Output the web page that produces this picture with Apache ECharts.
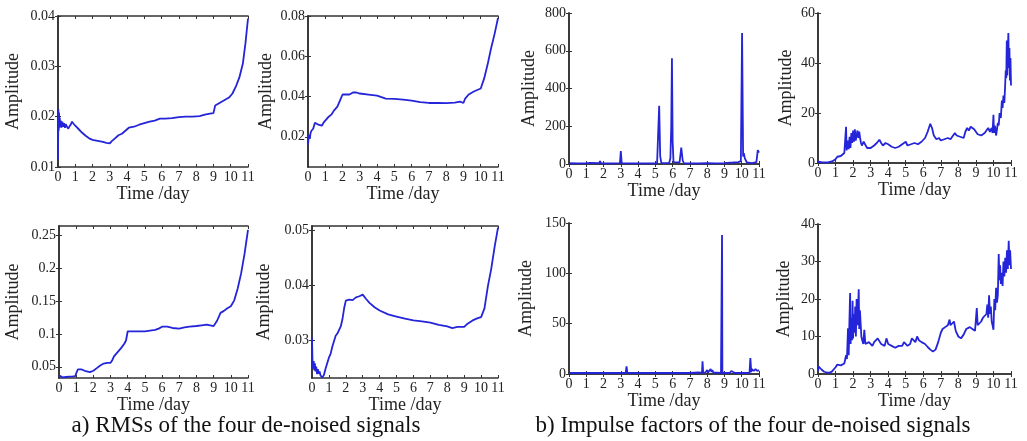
<!DOCTYPE html>
<html><head><meta charset="utf-8">
<script src="https://cdn.jsdelivr.net/npm/echarts@6/dist/echarts.min.js"></script>
<style>html,body{margin:0;padding:0;background:#fff}#c{width:1027px;height:441px}</style>
</head><body><div id="c"></div><script>
// ---- data (day, value) ----
const dayTicks = [0,1,2,3,4,5,6,7,8,9,10,11];

const rms1 = [[0,0.0115],[0.02,0.0215],[0.04,0.0172],[0.06,0.0208],[0.08,0.0178],[0.1,0.0198],[0.13,0.0180],[0.16,0.0192],[0.2,0.0178],[0.25,0.0190],[0.3,0.0180],[0.35,0.0187],[0.4,0.0178],[0.45,0.0185],[0.5,0.0181],[0.55,0.0184],[0.6,0.0176],[0.65,0.0180],[0.7,0.0182],[0.75,0.0185],[0.8,0.0190],[0.85,0.0189],[0.9,0.0186],[1.0,0.0182],[1.2,0.0175],[1.4,0.0168],[1.6,0.0162],[1.8,0.0157],[2.0,0.0154],[2.3,0.0152],[2.6,0.0150],[2.8,0.0148],[3.0,0.0147],[3.1,0.0151],[3.3,0.0157],[3.5,0.0163],[3.7,0.0166],[3.9,0.0172],[4.1,0.0178],[4.4,0.0180],[4.7,0.0184],[5.0,0.0187],[5.3,0.0190],[5.6,0.0192],[5.9,0.0196],[6.2,0.0196],[6.6,0.0197],[7.0,0.0199],[7.4,0.0200],[7.8,0.0200],[8.2,0.0201],[8.5,0.0204],[8.8,0.0206],[9.0,0.0207],[9.1,0.0222],[9.3,0.0226],[9.6,0.0232],[9.9,0.0238],[10.1,0.0246],[10.3,0.0260],[10.5,0.0278],[10.7,0.0305],[10.85,0.0345],[11.0,0.0395]];
const rms1Ticks = [0.01,0.02,0.03,0.04];

const rms2 = [[0,0.016],[0.05,0.021],[0.1,0.019],[0.15,0.022],[0.2,0.023],[0.3,0.024],[0.4,0.027],[0.5,0.0265],[0.6,0.026],[0.7,0.0258],[0.8,0.0255],[0.9,0.027],[1.0,0.028],[1.1,0.0285],[1.2,0.030],[1.35,0.031],[1.5,0.033],[1.6,0.034],[1.7,0.035],[1.8,0.037],[1.9,0.039],[2.0,0.041],[2.2,0.041],[2.4,0.041],[2.6,0.042],[2.8,0.042],[3.0,0.0415],[3.5,0.041],[4.0,0.0405],[4.5,0.039],[5.0,0.0388],[5.5,0.0385],[6.0,0.038],[6.5,0.0372],[7.0,0.0368],[7.5,0.0368],[8.0,0.0367],[8.5,0.037],[8.8,0.0375],[9.0,0.0368],[9.1,0.039],[9.3,0.041],[9.6,0.0425],[10.0,0.044],[10.2,0.049],[10.4,0.056],[10.6,0.064],[10.8,0.071],[11.0,0.079]];
const rms2Ticks = [0.02,0.04,0.06,0.08];

const imp1 = [[0,4],[0.5,3],[1.0,3],[1.2,6],[1.3,3],[1.75,4],[1.8,16],[1.85,4],[2.5,3],[2.95,5],[3.0,68],[3.05,5],[3.5,3],[3.95,3],[4.0,9],[4.05,3],[4.6,3],[5.1,4],[5.15,12],[5.22,308],[5.28,40],[5.35,5],[5.8,5],[5.87,30],[5.92,200],[5.96,560],[6.0,120],[6.05,10],[6.4,8],[6.5,87],[6.58,20],[6.65,4],[7.5,3],[8.0,4],[8.5,3],[9.0,5],[9.5,8],[9.8,10],[9.95,15],[10.02,694],[10.08,40],[10.12,57],[10.18,30],[10.3,8],[10.6,5],[10.85,10],[10.93,74],[11.0,60]];
const imp1Ticks = [0,200,400,600,800];

const imp2 = [[0,0.5],[0.2,0.3],[0.4,0.2],[0.6,0.3],[0.8,0.6],[1.0,1.5],[1.1,2.5],[1.2,3],[1.3,2.8],[1.4,3.5],[1.5,4],[1.55,3.5],[1.6,14.5],[1.63,5],[1.7,9],[1.75,5.5],[1.8,10.5],[1.85,6],[1.9,12],[1.95,8],[2.0,13],[2.05,8.5],[2.1,13.5],[2.15,9],[2.2,11],[2.25,13],[2.3,10],[2.35,12.5],[2.4,10],[2.45,8],[2.5,7],[2.6,8.5],[2.7,8],[2.8,6],[2.9,6.5],[3.0,6],[3.2,7],[3.35,8],[3.5,9.3],[3.6,8],[3.7,7],[3.85,8],[4.0,7.5],[4.2,6.5],[4.4,6],[4.6,6.5],[4.8,7.5],[5.0,8.5],[5.1,7],[5.3,7.5],[5.5,8],[5.7,7.5],[5.9,8.5],[6.1,10],[6.25,12.5],[6.4,15.7],[6.5,14],[6.6,11],[6.75,9.5],[6.9,10],[7.0,9],[7.2,9.5],[7.4,10],[7.55,9.5],[7.7,11],[7.8,12],[7.9,11],[8.1,10.5],[8.3,10],[8.4,12.5],[8.5,14],[8.6,13],[8.7,14.5],[8.8,15],[8.9,13.5],[9.0,13],[9.1,11.5],[9.3,11],[9.5,12],[9.6,13],[9.7,14],[9.8,12.5],[9.9,14],[9.95,12],[10.0,19.3],[10.03,12],[10.08,15],[10.15,11],[10.2,10.5],[10.25,16],[10.3,15],[10.35,20],[10.42,18],[10.48,25],[10.52,22],[10.57,27],[10.62,24],[10.66,30],[10.7,37],[10.73,34],[10.76,49],[10.79,35],[10.82,45],[10.85,52],[10.88,38],[10.91,46],[10.94,33],[10.97,42],[11.0,31]];
const imp2Ticks = [0,20,40,60];

const rms3 = [[0,0.037],[0.1,0.035],[0.2,0.034],[0.4,0.0345],[0.6,0.035],[0.8,0.0355],[0.95,0.036],[1.0,0.040],[1.1,0.046],[1.3,0.046],[1.5,0.044],[1.8,0.042],[2.0,0.044],[2.2,0.048],[2.4,0.052],[2.6,0.055],[2.8,0.056],[3.0,0.056],[3.1,0.060],[3.2,0.066],[3.4,0.072],[3.6,0.078],[3.8,0.085],[3.9,0.090],[4.0,0.104],[4.3,0.104],[4.7,0.104],[5.0,0.104],[5.3,0.105],[5.6,0.106],[5.8,0.108],[6.0,0.111],[6.3,0.111],[6.6,0.109],[7.0,0.108],[7.3,0.110],[7.6,0.111],[8.0,0.112],[8.3,0.113],[8.6,0.114],[9.0,0.112],[9.2,0.120],[9.4,0.132],[9.6,0.135],[9.8,0.139],[10.0,0.142],[10.2,0.151],[10.4,0.169],[10.6,0.192],[10.8,0.222],[11.0,0.258]];
const rms3Ticks = [0.05,0.1,0.15,0.2,0.25];

const rms4 = [[0,0.0305],[0.03,0.026],[0.06,0.0248],[0.1,0.0262],[0.13,0.0245],[0.17,0.0258],[0.2,0.0243],[0.25,0.0252],[0.3,0.0238],[0.35,0.0247],[0.4,0.0239],[0.45,0.0243],[0.5,0.0236],[0.55,0.0238],[0.6,0.0232],[0.65,0.0234],[0.7,0.0236],[0.8,0.0248],[0.9,0.0258],[1.0,0.0268],[1.1,0.0275],[1.2,0.0288],[1.3,0.0298],[1.4,0.0308],[1.5,0.0312],[1.6,0.0314],[1.7,0.0325],[1.8,0.0338],[1.9,0.0358],[2.0,0.0372],[2.2,0.0374],[2.4,0.0373],[2.6,0.0378],[2.8,0.0380],[3.0,0.0383],[3.2,0.0375],[3.4,0.0368],[3.7,0.0360],[4.0,0.0354],[4.5,0.0347],[5.0,0.0343],[5.5,0.0339],[6.0,0.0336],[6.5,0.0334],[7.0,0.0332],[7.5,0.0328],[8.0,0.0325],[8.3,0.0322],[8.6,0.0324],[9.0,0.0324],[9.2,0.0330],[9.5,0.0336],[9.8,0.0340],[10.0,0.0342],[10.2,0.0358],[10.4,0.0398],[10.6,0.0430],[10.8,0.0470],[11.0,0.0505]];
const rms4Ticks = [0.03,0.04,0.05];

const imp3 = [[0,1],[0.5,1],[1.0,1],[1.5,1],[1.95,1],[2.0,2.5],[2.05,1],[2.5,1],[3.0,1],[3.28,1],[3.33,7.6],[3.38,1],[4.0,1],[5.0,1],[6.0,1],[7.0,1],[7.5,1.5],[7.7,1],[7.73,12.6],[7.77,1],[7.9,1.5],[8.0,4],[8.05,1.5],[8.15,2],[8.2,5],[8.25,2],[8.3,4],[8.35,1.5],[8.8,1],[8.84,1],[8.86,138],[8.88,1],[9.0,1],[9.3,1],[9.4,3],[9.5,2.5],[9.6,1],[10.0,1],[10.45,1],[10.5,15.9],[10.55,2],[10.6,5],[10.7,3],[10.8,5],[10.9,3],[11.0,4]];
const imp3Ticks = [0,50,100,150];

const imp4 = [[0,0.8],[0.04,2],[0.1,1.5],[0.2,1.2],[0.35,0.6],[0.5,0.4],[0.65,0.3],[0.8,0.7],[1.0,1.8],[1.1,2.5],[1.3,2.3],[1.5,2.8],[1.6,5],[1.65,4],[1.71,12.2],[1.75,5],[1.79,14],[1.83,21.6],[1.86,8],[1.9,15],[1.94,9],[1.97,19.5],[2.0,9.5],[2.04,16],[2.08,11],[2.12,18],[2.16,10],[2.2,20],[2.24,13],[2.28,17],[2.32,22.6],[2.35,12],[2.39,17],[2.43,13.5],[2.47,10],[2.52,9],[2.58,8],[2.64,11.8],[2.7,8],[2.8,7.5],[2.9,8.5],[3.0,8],[3.1,7.5],[3.2,8.5],[3.3,8],[3.4,9.5],[3.5,10],[3.6,8],[3.7,7.5],[3.8,7.5],[3.9,9.5],[4.0,8],[4.1,8.5],[4.2,7.5],[4.4,7],[4.6,7.5],[4.8,7.5],[4.9,8.5],[5.0,8],[5.1,7.5],[5.25,8],[5.35,9.5],[5.45,10],[5.55,8.5],[5.65,10],[5.75,9],[5.9,8.5],[6.1,8],[6.25,7.2],[6.4,6.5],[6.55,6],[6.7,6.5],[6.85,8.5],[7.0,11],[7.1,12],[7.25,12.5],[7.4,13],[7.5,14.5],[7.55,13],[7.65,12.5],[7.75,14],[7.85,11.5],[8.0,10],[8.15,9.5],[8.3,10.5],[8.45,12],[8.55,11.5],[8.65,12.5],[8.8,12],[8.95,11.5],[9.0,11],[9.05,17.6],[9.1,13],[9.2,13.5],[9.3,14],[9.4,15],[9.5,14.5],[9.6,16],[9.65,18.5],[9.7,15],[9.75,21],[9.8,16],[9.85,18],[9.9,14],[9.95,13],[10.0,11.8],[10.05,20],[10.1,17],[10.15,23],[10.2,19],[10.25,21],[10.3,32],[10.34,25],[10.38,29],[10.42,24],[10.47,27],[10.52,23.5],[10.57,30],[10.62,26],[10.67,31],[10.72,27],[10.77,33],[10.82,28],[10.87,35.5],[10.91,29],[10.95,33],[11.0,28]];
const imp4Ticks = [0,10,20,30,40];

const captionA = 'a) RMSs of the four de-noised signals';
const captionB = 'b) Impulse factors of the four de-noised signals';

// ---- layout ----
const panels = [
  {data: rms1, ticks: rms1Ticks, min: 0.01,   max: 0.04,   box: [58, 16, 190, 151],  gap: 36},
  {data: rms2, ticks: rms2Ticks, min: 0.005,  max: 0.08,   box: [308, 16, 190, 151], gap: 33},
  {data: imp1, ticks: imp1Ticks, min: 0,      max: 800,    box: [569, 13, 190, 151], gap: 31},
  {data: imp2, ticks: imp2Ticks, min: 0,      max: 60,     box: [818, 13, 193, 150], gap: 23},
  {data: rms3, ticks: rms3Ticks, min: 0.033,  max: 0.264,  box: [59, 226, 189, 152], gap: 37},
  {data: rms4, ticks: rms4Ticks, min: 0.0231, max: 0.0508, box: [312, 226, 186, 152], gap: 39},
  {data: imp3, ticks: imp3Ticks, min: 0,      max: 150,    box: [569, 223, 190, 151], gap: 34},
  {data: imp4, ticks: imp4Ticks, min: 0,      max: 40,     box: [818, 224, 193, 150], gap: 25}
];

const FONT = 'Liberation Serif';
const AXC = '#333';
const fmt = v => String(+v.toFixed(4));

const grids = [], xAxes = [], yAxes = [], series = [];
panels.forEach((p, i) => {
  grids.push({left: p.box[0], top: p.box[1], width: p.box[2], height: p.box[3]});
  const line = {show: true, lineStyle: {color: AXC, width: 1.6}};
  xAxes.push({
    gridIndex: i, type: 'value', position: 'bottom', min: 0, max: 11, interval: 1,
    name: 'Time /day', nameLocation: 'middle', nameGap: 17,
    nameTextStyle: {fontFamily: FONT, fontSize: 18, color: '#222'},
    axisLine: line, splitLine: {show: false},
    axisTick: {inside: true, length: 3, lineStyle: {color: AXC}},
    axisLabel: {fontFamily: FONT, fontSize: 14, color: '#222', margin: 3, formatter: v => String(v)}
  });
  xAxes.push({
    gridIndex: i, type: 'value', position: 'top', min: 0, max: 11, interval: 1,
    axisLine: line, splitLine: {show: false},
    axisTick: {inside: true, length: 3, lineStyle: {color: AXC}},
    axisLabel: {show: false}
  });
  yAxes.push({
    gridIndex: i, type: 'value', position: 'left', min: p.min, max: p.max,
    name: 'Amplitude', nameLocation: 'middle', nameGap: p.gap, nameRotate: 90,
    nameTextStyle: {fontFamily: FONT, fontSize: 18, color: '#222'},
    axisLine: line, splitLine: {show: false},
    axisTick: {inside: true, length: 3, customValues: p.ticks, lineStyle: {color: AXC}},
    axisLabel: {fontFamily: FONT, fontSize: 14, color: '#222', margin: 3, customValues: p.ticks, formatter: fmt}
  });
  yAxes.push({
    gridIndex: i, type: 'value', position: 'right', min: p.min, max: p.max,
    axisLine: line, splitLine: {show: false},
    axisTick: {inside: true, length: 3, customValues: p.ticks, lineStyle: {color: AXC}},
    axisLabel: {show: false}
  });
  series.push({
    type: 'line', xAxisIndex: 2 * i, yAxisIndex: 2 * i, data: p.data,
    showSymbol: false, symbol: 'none', clip: true,
    lineStyle: {color: '#2424d8', width: 1.8}
  });
});

const chart = echarts.init(document.getElementById('c'), null, {renderer: 'canvas'});
chart.setOption({
  animation: false,
  backgroundColor: '#fff',
  grid: grids, xAxis: xAxes, yAxis: yAxes, series: series,
  graphic: [
    {type: 'text', x: 246, y: 426, style: {text: captionA, fontFamily: FONT, fontSize: 23, fill: '#111', align: 'center', verticalAlign: 'middle'}},
    {type: 'text', x: 753, y: 426, style: {text: captionB, fontFamily: FONT, fontSize: 23, fill: '#111', align: 'center', verticalAlign: 'middle'}}
  ]
});
</script></body></html>
